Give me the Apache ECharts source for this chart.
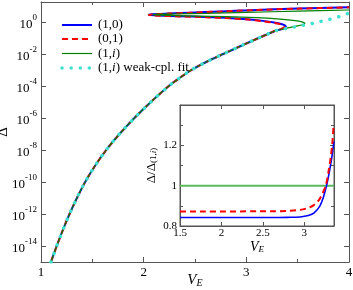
<!DOCTYPE html>
<html><head><meta charset="utf-8">
<script src="https://cdn.jsdelivr.net/npm/echarts@6/dist/echarts.min.js"></script>
<style>html,body{margin:0;padding:0;background:#fff}#c{width:353px;height:290px}</style>
</head><body><div id="c"></div>
<script>
// ---- main panel: V_E and log10(Delta) ----
const sharedV   = [1.097,1.153,1.213,1.278,1.35,1.43,1.525,1.635,1.765,1.91,2.07,2.245,2.35,2.465,2.61,2.775,2.945,3.12,3.21];
const sharedLog = [-15.0,-14.0,-13.0,-12.0,-11.0,-10.0,-9.0,-8.0,-7.0,-6.0,-5.0,-4.0,-3.5,-3.0,-2.5,-2.0,-1.5,-1.0,-0.75];

const blueTailV   = [3.285,3.34,3.372,3.385,3.375,3.34,3.27,3.16,3.03,2.85,2.6,2.35,2.15,2.07,2.05,2.08,2.25,2.45,2.75,3.05,3.5,4.0];
const blueTailLog = [-0.55,-0.45,-0.37,-0.29,-0.21,-0.12,-0.03,0.07,0.16,0.24,0.31,0.36,0.40,0.43,0.46,0.48,0.53,0.58,0.66,0.74,0.84,0.92];

const redTailV    = [3.28,3.33,3.358,3.368,3.358,3.325,3.26,3.15,3.02,2.85,2.6,2.35,2.15,2.07,2.05,2.08,2.25,2.45,2.75,3.05,3.5,4.0];
const redTailLog  = [-0.55,-0.46,-0.38,-0.30,-0.22,-0.13,-0.04,0.06,0.15,0.23,0.30,0.35,0.39,0.42,0.455,0.475,0.525,0.575,0.655,0.735,0.835,0.915];

const greenTailV  = [3.285,3.37,3.44,3.5,3.545,3.567,3.57,3.555,3.51,3.43,3.3,3.1,2.8,2.5,2.25,2.12,2.09,2.12,2.3,2.6,3.0,3.5,4.0];
const greenTailLog= [-0.55,-0.42,-0.32,-0.24,-0.17,-0.12,-0.07,-0.02,0.05,0.12,0.2,0.27,0.33,0.37,0.41,0.44,0.46,0.475,0.5,0.54,0.6,0.68,0.75];

const fitTailV    = [3.285,3.37,3.45,3.53,3.62,3.71,3.8,3.9,4.0];
const fitTailLog  = [-0.55,-0.43,-0.33,-0.23,-0.12,0.01,0.15,0.33,0.56];

const mainYTickExp = [-14,-12,-10,-8,-6,-4,-2,0];

// ---- inset: ratio Delta / Delta_(1,i) ----
const insetBlueV = [1.5,2.6,2.8,2.95,3.05,3.12,3.19,3.23,3.27,3.30,3.33,3.35,3.36];
const insetBlueR = [0.842,0.842,0.843,0.845,0.852,0.865,0.9,0.94,1.0,1.06,1.13,1.19,1.22];
const insetRedV  = [1.5,2.6,2.8,2.95,3.05,3.12,3.18,3.22,3.26,3.29,3.32,3.34,3.355];
const insetRedR  = [0.872,0.873,0.875,0.88,0.89,0.905,0.93,0.96,1.0,1.06,1.14,1.21,1.30];
const insetGreenV = [1.5,3.36];
const insetGreenR = [1.0,1.0];

const legendNames = ['(1,0)','(0,1)','(1,{i|i})','(1,{i|i}) weak-cpl. fit'];

function pairsLog(v1,l1,v2,l2){
  const out=[];
  v1.forEach((v,k)=>out.push([v,Math.pow(10,l1[k])]));
  if(v2) v2.forEach((v,k)=>out.push([v,Math.pow(10,l2[k])]));
  return out;
}
function pairs(v,r){return v.map((x,k)=>[x,r[k]]);}

const SERIF='"Liberation Serif","DejaVu Serif",serif';
const AX='#555';
const chart=echarts.init(document.getElementById('c'),null,{renderer:'canvas'});

const supRich={b:{fontFamily:SERIF,fontSize:13,color:'#000',lineHeight:18,verticalAlign:'bottom'},
               s:{fontFamily:SERIF,fontSize:9,color:'#000',lineHeight:9,verticalAlign:'top'}};

function axisBase(extra){
  return Object.assign({
    axisLine:{show:true,onZero:false,lineStyle:{color:AX,width:1}},
    splitLine:{show:false},
    nameMoveOverlap:false
  },extra);
}
function subName(big,small){
  return {rich:{
    v:{fontFamily:SERIF,fontStyle:'italic',fontSize:big,color:'#000',lineHeight:big,verticalAlign:'top'},
    e:{fontFamily:SERIF,fontStyle:'italic',fontSize:small,color:'#000',lineHeight:small,verticalAlign:'bottom',padding:[Math.round(big*0.55),0,0,0]}}};
}

const blue='#0000ff', red='#ff0000', green='#008000', cyan='#3fe0d0';

const option={
  animation:false,
  backgroundColor:'#fff',
  grid:[
    {left:41,top:2,width:308,height:260,show:false,containLabel:false,outerBoundsMode:'none'},
    {left:180,top:105,width:154,height:121,show:true,backgroundColor:'#fff',borderColor:AX,borderWidth:1,z:3,containLabel:false,outerBoundsMode:'none'}
  ],
  xAxis:[
    axisBase({gridIndex:0,type:'value',min:1,max:4,interval:1,position:'bottom',
      axisTick:{inside:true,length:5,lineStyle:{color:AX}},
      minorTick:{show:true,splitNumber:2,length:3,lineStyle:{color:AX}},
      axisLabel:{fontFamily:SERIF,fontSize:13,color:'#000',margin:4},
      name:'{v|V}{e|E}',nameLocation:'middle',nameGap:11,nameTextStyle:subName(15,10)}),
    axisBase({gridIndex:0,type:'value',min:1,max:4,interval:1,position:'top',
      axisTick:{inside:true,length:5,lineStyle:{color:AX}},
      minorTick:{show:true,splitNumber:2,length:3,lineStyle:{color:AX}},
      axisLabel:{show:false}}),
    axisBase({gridIndex:1,type:'value',min:1.5,max:3.36,interval:0.5,position:'bottom',z:4,
      axisTick:{inside:true,length:4,lineStyle:{color:AX}},
      axisLabel:{fontFamily:SERIF,fontSize:11,color:'#000',margin:2,showMaxLabel:false},
      name:'{v|V}{e|E}',nameLocation:'middle',nameGap:14,nameTextStyle:subName(14,9)}),
    axisBase({gridIndex:1,type:'value',min:1.5,max:3.36,interval:0.5,position:'top',z:4,
      axisTick:{inside:true,length:4,lineStyle:{color:AX}},
      axisLabel:{show:false}})
  ],
  yAxis:[
    axisBase({gridIndex:0,type:'log',logBase:10,min:1e-15,max:Math.pow(10,1.25),position:'left',
      axisTick:{inside:true,length:5,lineStyle:{color:AX},customValues:mainYTickExp.map(e=>Math.pow(10,e))},
      axisLabel:{margin:4,customValues:mainYTickExp.map(e=>Math.pow(10,e)),
        formatter:v=>{const e=Math.round(Math.log10(v));return '{b|10}{s|'+e+'}';},rich:supRich},
      name:'Δ',nameLocation:'middle',nameGap:30,nameRotate:90,
      nameTextStyle:{fontFamily:SERIF,fontSize:15,color:'#000'}}),
    axisBase({gridIndex:0,type:'log',logBase:10,min:1e-15,max:Math.pow(10,1.25),position:'right',
      axisTick:{inside:true,length:5,lineStyle:{color:AX},customValues:mainYTickExp.map(e=>Math.pow(10,e))},
      axisLabel:{show:false}}),
    axisBase({gridIndex:1,type:'value',min:0.8,max:1.4,interval:0.2,position:'left',z:4,
      axisTick:{inside:true,length:4,lineStyle:{color:AX}},
      minorTick:{show:true,splitNumber:2,length:3,lineStyle:{color:AX}},
      axisLabel:{fontFamily:SERIF,fontSize:11,color:'#000',margin:3,showMaxLabel:false},
      name:'{a|Δ/Δ}{s|(1,}{i|i}{s|)}',nameLocation:'middle',nameGap:22,nameRotate:90,
      nameTextStyle:{rich:{a:{fontFamily:SERIF,fontSize:13,color:'#000',lineHeight:13,verticalAlign:'top'},
                           s:{fontFamily:SERIF,fontSize:9,color:'#000',lineHeight:9,verticalAlign:'bottom',padding:[7,0,0,0]},
                           i:{fontFamily:SERIF,fontStyle:'italic',fontSize:9,color:'#000',lineHeight:9,verticalAlign:'bottom',padding:[7,0,0,0]}}}}),
    axisBase({gridIndex:1,type:'value',min:0.8,max:1.4,interval:0.2,position:'right',z:4,
      axisTick:{inside:true,length:4,lineStyle:{color:AX}},
      minorTick:{show:true,splitNumber:2,length:3,lineStyle:{color:AX}},
      axisLabel:{show:false}})
  ],
  series:[
    {name:'(1,0)',type:'line',xAxisIndex:0,yAxisIndex:0,showSymbol:false,smooth:0.3,
      lineStyle:{color:blue,width:2},data:pairsLog(sharedV,sharedLog,blueTailV,blueTailLog),z:2},
    {name:'(0,1)',type:'line',xAxisIndex:0,yAxisIndex:0,showSymbol:false,smooth:0.3,
      lineStyle:{color:red,width:2,type:[6,4]},data:pairsLog(sharedV,sharedLog,redTailV,redTailLog),z:2},
    {name:'(1,i)',type:'line',xAxisIndex:0,yAxisIndex:0,showSymbol:false,smooth:0.3,
      lineStyle:{color:green,width:1.2},data:pairsLog(sharedV,sharedLog,greenTailV,greenTailLog),z:2},
    {name:'(1,i) weak-cpl. fit',type:'line',xAxisIndex:0,yAxisIndex:0,showSymbol:false,smooth:0.3,
      lineStyle:{color:cyan,width:3.5,type:[0.1,9],cap:'round'},data:pairsLog(sharedV,sharedLog,fitTailV,fitTailLog),z:2},
    {type:'line',xAxisIndex:2,yAxisIndex:2,showSymbol:false,lineStyle:{color:'#5cb85c',width:2},data:pairs(insetGreenV,insetGreenR),z:5},
    {type:'line',xAxisIndex:2,yAxisIndex:2,showSymbol:false,smooth:0.3,lineStyle:{color:blue,width:1.6},data:pairs(insetBlueV,insetBlueR),z:5},
    {type:'line',xAxisIndex:2,yAxisIndex:2,showSymbol:false,smooth:0.3,lineStyle:{color:red,width:2,type:[6,4]},data:pairs(insetRedV,insetRedR),z:5}
  ],
  graphic:[]
};

const legendY=[25,39,53.5,68];
const legendStyles=[
  {stroke:blue,lineWidth:2},
  {stroke:red,lineWidth:2,lineDash:[6,4]},
  {stroke:green,lineWidth:1.2},
  {stroke:cyan,lineWidth:3.5,lineDash:[0.1,9],lineCap:'round'}
];
legendNames.forEach((nm,k)=>{
  option.graphic.push({type:'line',shape:{x1:62,y1:legendY[k],x2:92,y2:legendY[k]},style:legendStyles[k],z:10,silent:true});
  option.graphic.push({type:'text',x:98,y:legendY[k],z:10,silent:true,
    style:{text:nm,font:'13px "Liberation Serif"',fontFamily:SERIF,fontSize:13,fill:'#000',verticalAlign:'middle',
      rich:{i:{font:'italic 13px "Liberation Serif"',fontFamily:SERIF,fontStyle:'italic',fontSize:13,fill:'#000'}}}});
});

chart.setOption(option);
</script></body></html>
